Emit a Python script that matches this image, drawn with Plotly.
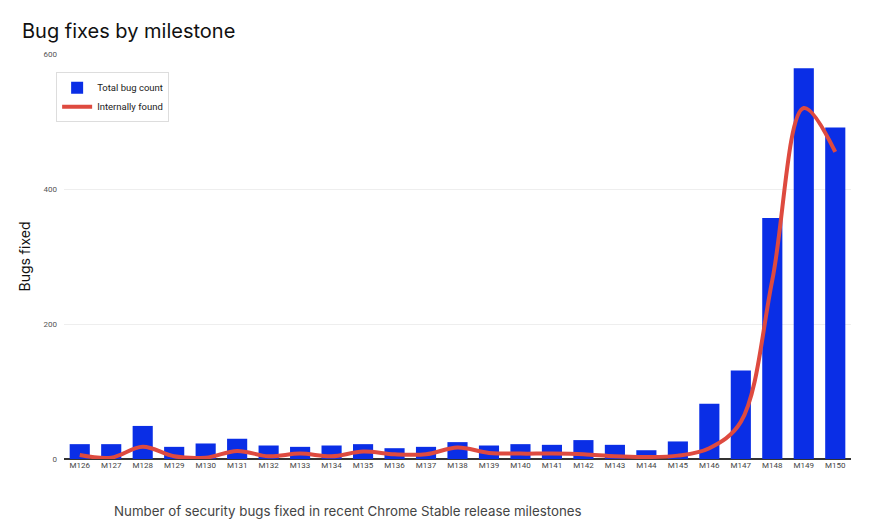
import plotly.graph_objects as go

milestones = ["M126", "M127", "M128", "M129", "M130", "M131", "M132", "M133", "M134",
              "M135", "M136", "M137", "M138", "M139", "M140", "M141", "M142", "M143",
              "M144", "M145", "M146", "M147", "M148", "M149", "M150"]
total_bugs = [22, 22, 49, 18, 23, 30, 20, 18, 20, 22, 16, 18, 25, 20, 22, 21, 28, 21,
              13, 26, 82, 131, 357, 579, 491]
internal_bugs = [6, 2, 18, 4, 2, 12, 4, 8, 4, 11, 7, 7, 17, 9, 8, 8, 7, 4,
                 3, 5, 16, 55, 265, 520, 455]
y_ticks = [0, 200, 400, 600]

# the page body adds an 8px margin, so the figure is drawn 8px smaller
W, H = 861, 520

fig = go.Figure()
fig.add_trace(go.Bar(
    x=milestones, y=total_bugs, name="Total bug count",
    marker=dict(color="#0a2ee6", line=dict(width=0)),
))
fig.add_trace(go.Scatter(
    x=milestones, y=internal_bugs, name="Internally found", mode="lines",
    line=dict(color="#de4a3f", width=4, shape="spline", smoothing=1.0),
))

fig.update_layout(
    width=W, height=H,
    margin=dict(l=56, r=18, t=46, b=69),
    paper_bgcolor="white", plot_bgcolor="white",
    bargap=0.36,
    title=dict(text="Bug fixes by milestone", x=14 / W, xref="container", xanchor="left",
               y=1 - 23 / H, yref="container", yanchor="middle",
               font=dict(family="Inter, Roboto, sans-serif", size=20, color="#111111")),
    legend=dict(x=-0.01, y=0.955, xanchor="left", yanchor="top",
                bgcolor="white", bordercolor="#dddddd", borderwidth=1,
                font=dict(family="Roboto, Arial, sans-serif", size=9.5, color="#222222"),
                itemwidth=30, tracegroupgap=2),
    showlegend=True,
    font=dict(family="Roboto, Arial, sans-serif"),
)
fig.update_xaxes(
    type="category", showgrid=False, showline=False,
    tickfont=dict(size=8, color="#444444"), ticks="",
)
fig.update_yaxes(
    range=[0, 600], tickvals=y_ticks, showgrid=True, gridcolor="#eeeeee", gridwidth=1,
    zeroline=True, zerolinecolor="#333333", zerolinewidth=1.5,
    tickfont=dict(size=8, color="#555555"), ticklabelstandoff=6,
    title=dict(text="Bugs fixed", standoff=9,
               font=dict(family="Inter, Roboto, sans-serif", size=14, color="#111111")),
)
fig.add_annotation(
    text="Number of security bugs fixed in recent Chrome Stable release milestones",
    xref="paper", yref="paper", x=(104 - 56) / 787, y=(451 - 503) / 405,
    xanchor="left", yanchor="middle", showarrow=False,
    font=dict(family="Inter, Roboto, sans-serif", size=13.3, color="#444444"),
)

fig.write_html("out.html")
